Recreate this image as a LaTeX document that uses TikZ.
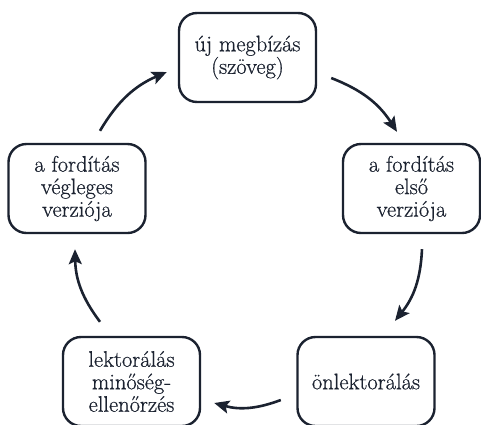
\documentclass[tikz,border=0pt]{standalone}
\usepackage{fontspec}
\newfontfamily\boxfont{Latin Modern Roman}[FakeBold=0.6]
\usetikzlibrary{arrows.meta,calc}
\definecolor{ink}{HTML}{1B2230}
\begin{document}
\begin{tikzpicture}[x=1pt,y=-1pt,
  stagebox/.style={draw=ink,line width=2.4pt,rounded corners=18pt,
    minimum width=137pt,minimum height=89pt,align=center,text=ink,
    inner sep=2pt,font=\boxfont\fontsize{22.5}{22.5}\selectfont},
  cyclearrow/.style={draw=ink,line width=2.6pt,
    -{Stealth[length=15pt,width=13pt,inset=3pt]},bend left=18}]
\useasboundingbox (0,0) rectangle (481,424);
\node[stagebox] (A) at (247.5,57.5) {új megbízás\\(szöveg)};
\node[stagebox] (B) at (411.5,188.5) {a fordítás\\első\\verziója};
\node[stagebox] (C) at (366,381.5) {önlektorálás};
\node[stagebox] (D) at (131.5,381.5) {lektorálás\\minőség-\\ellenőrzés};
\node[stagebox] (E) at (77,188.5) {a fordítás\\végleges\\verziója};
\draw[cyclearrow] ($(A.east)+(14,20.5)$) to ($(B.north)+(-14.5,-11)$);
\draw[cyclearrow] ($(B.south)+(10.5,15)$) to ($(C.north)+(29,-15)$);
\draw[cyclearrow] ($(C.west)+(-15.5,18.5)$) to ($(D.east)+(13,21.5)$);
\draw[cyclearrow] ($(D.north)+(-31.5,-14)$) to ($(E.south)+(-2,15)$);
\draw[cyclearrow] ($(E.north)+(23,-12)$) to ($(A.west)+(-11,14.5)$);
\end{tikzpicture}
\end{document}
